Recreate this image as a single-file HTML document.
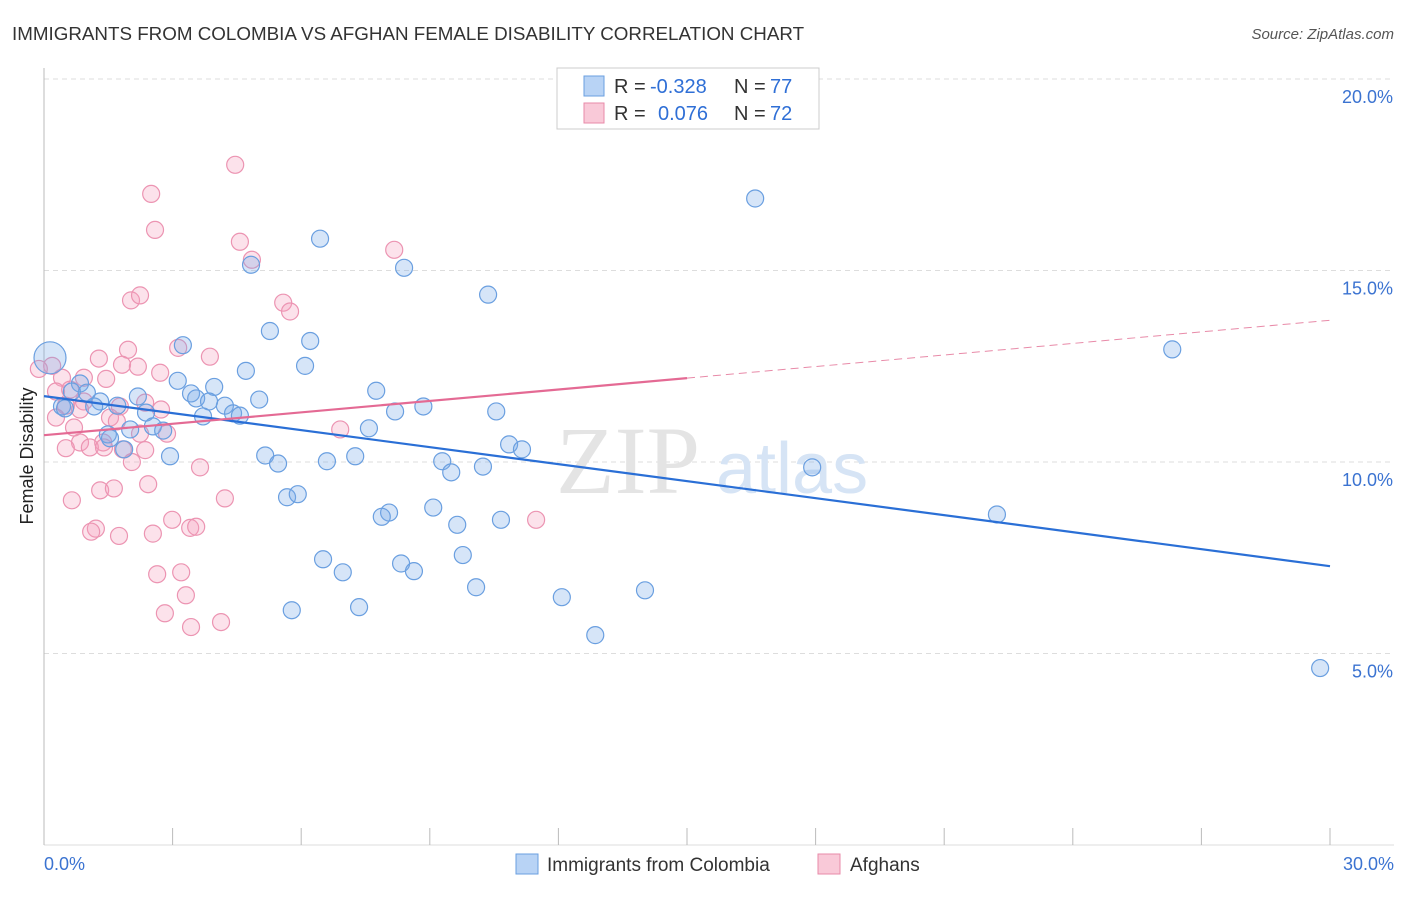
<!DOCTYPE html>
<html><head><meta charset="utf-8"><style>
body{margin:0;background:#fff;font-family:"Liberation Sans",sans-serif}
</style></head><body>
<svg width="1406" height="892" xmlns="http://www.w3.org/2000/svg" font-family="Liberation Sans, sans-serif">
<text x="12" y="40" font-size="18.8" fill="#333">IMMIGRANTS FROM COLOMBIA VS AFGHAN FEMALE DISABILITY CORRELATION CHART</text>
<text x="1394" y="39" font-size="15" fill="#555" font-style="italic" text-anchor="end">Source: ZipAtlas.com</text>
<g id="grid"></g>
<text x="556" y="493" font-size="96" fill="#e4e4e4" font-family="Liberation Serif, serif">ZIP</text>
<text x="716" y="493" font-size="72" fill="#d6e4f5">atlas</text>
<g id="pts"></g>
<g id="lines"></g>
<text transform="translate(33,456) rotate(-90)" font-size="18" fill="#222" text-anchor="middle">Female Disability</text>
<rect x="557" y="68" width="262" height="61" fill="#fff" stroke="#ccc"/>
<rect x="584" y="76" width="20" height="20" fill="#b8d3f5" stroke="#6a9fe0"/>
<rect x="584" y="103" width="20" height="20" fill="#f9c9d8" stroke="#e88aa8"/>
<g font-size="20">
<text x="614" y="93" fill="#333">R =</text><text x="650" y="93" fill="#2f6fd6">-0.328</text>
<text x="734" y="93" fill="#333">N =</text><text x="770" y="93" fill="#2f6fd6">77</text>
<text x="614" y="120" fill="#333">R =</text><text x="658" y="120" fill="#2f6fd6">0.076</text>
<text x="734" y="120" fill="#333">N =</text><text x="770" y="120" fill="#2f6fd6">72</text>
</g>
<text x="44" y="870" font-size="18" fill="#3b73d1">0.0%</text>
<text x="1394" y="870" font-size="18" fill="#3b73d1" text-anchor="end">30.0%</text>
<rect x="516" y="854" width="22" height="20" fill="#b8d3f5" stroke="#6a9fe0"/>
<text x="547" y="871" font-size="19" fill="#333">Immigrants from Colombia</text>
<rect x="818" y="854" width="22" height="20" fill="#f9c9d8" stroke="#e88aa8"/>
<text x="850" y="871" font-size="19" fill="#333">Afghans</text>
</svg>
<script>
const yTicks=[5,10,15,20];
const yTickLabels=["5.0%","10.0%","15.0%","20.0%"];
const xTicks=[0,3,6,9,12,15,18,21,24,27,30];
const colombiaX=[4.83,6.44,8.4,10.36,16.59,26.32,3.24,5.27,6.21,6.09,4.71,3.12,3.97,7.75,3.43,3.55,2.19,0.84,1.0,0.65,1.31,1.71,5.02,4.22,3.85,0.42,0.49,1.17,2.38,3.71,4.41,4.57,8.19,8.85,10.55,10.85,11.15,7.58,2.01,2.54,2.78,1.49,1.54,1.87,2.94,5.16,5.46,6.6,7.26,9.29,9.5,10.24,17.92,8.05,5.67,5.92,9.08,7.88,10.66,9.64,22.23,6.51,6.97,8.33,8.63,9.77,10.08,12.08,14.02,12.86,5.78,7.35,29.77,0.14];
const colombiaY=[15.15,15.83,15.07,14.37,16.88,12.94,13.05,13.42,13.16,12.51,12.38,12.12,11.96,11.86,11.79,11.66,11.71,12.05,11.81,11.84,11.58,11.47,11.63,11.47,11.58,11.45,11.4,11.45,11.29,11.19,11.27,11.21,11.32,11.45,11.32,10.46,10.33,10.88,10.85,10.93,10.82,10.72,10.62,10.33,10.15,10.17,9.96,10.02,10.15,10.02,9.73,9.88,9.86,8.68,9.08,9.16,8.81,8.57,8.49,8.36,8.63,7.46,7.12,7.35,7.15,7.57,6.73,6.47,6.65,5.48,6.13,6.21,4.62,12.72];
const afghanX=[4.46,2.5,2.59,4.57,4.85,8.17,5.58,5.74,2.03,2.24,3.13,3.87,1.28,1.96,1.82,2.19,2.71,1.45,0.93,0.42,0.19,0.28,0.61,0.93,0.84,0.51,1.77,2.36,2.73,1.54,1.7,0.28,0.7,2.24,2.87,1.38,0.84,0.51,1.07,1.4,2.36,1.84,6.91,2.05,3.64,0.65,1.31,1.63,4.22,2.43,1.21,1.1,1.75,2.54,2.99,3.41,3.55,11.48,2.64,3.2,3.31,2.82,3.43,4.13,-0.12];
const afghanY=[17.76,17.0,16.06,15.75,15.28,15.54,14.16,13.93,14.22,14.35,12.98,12.75,12.7,12.93,12.54,12.49,12.33,12.17,12.2,12.2,12.51,11.84,11.89,11.58,11.37,11.47,11.45,11.55,11.37,11.16,11.06,11.16,10.9,10.74,10.74,10.51,10.51,10.36,10.38,10.38,10.31,10.33,10.85,10.0,9.86,9.0,9.26,9.31,9.05,9.42,8.26,8.18,8.07,8.13,8.49,8.28,8.31,8.49,7.07,7.12,6.52,6.05,5.69,5.82,12.43];
const colombiaTrend=[[0,11.72],[30,7.28]];
const afghanTrend=[[0,10.7],[15,12.19],[30,13.7]];
const X=v=>44+v/30*1286, Y=v=>845-v/20*766;
const NS="http://www.w3.org/2000/svg";
function mk(t,a,p){const e=document.createElementNS(NS,t);for(const k in a)e.setAttribute(k,a[k]);p.appendChild(e);return e;}
const g=document.getElementById('grid');
yTicks.forEach((t,i)=>{
 const l=mk('line',{x1:44,x2:1394,y1:Y(t),y2:Y(t),stroke:'#ddd','stroke-dasharray':'5,4'},g);
 
 
 const tx=mk('text',{x:1393,y:Y(t)+24,'font-size':18,fill:'#3b73d1','text-anchor':'end'},g);
 tx.textContent=yTickLabels[i];
 
 
});
const ya=mk('line',{x1:44,x2:44,y1:68,y2:845,stroke:'#bbb'},g);


const xa=mk('line',{x1:44,x2:1394,y1:845,y2:845,stroke:'#ddd'},g);


xTicks.forEach(t=>{
 const l=mk('line',{x1:X(t),x2:X(t),y1:828,y2:845,stroke:'#bbb'},g);
 
 
});
const p=document.getElementById('pts');
afghanX.forEach((x,i)=>{
 const c=mk('circle',{cx:X(x),cy:Y(afghanY[i]),r:8.5,fill:'rgba(244,160,188,0.3)',stroke:'#ec94b2','stroke-width':1.2},p);
 
 
});
colombiaX.forEach((x,i)=>{
 const c=mk('circle',{cx:X(x),cy:Y(colombiaY[i]),r:i==colombiaX.length-1?16:8.5,fill:'rgba(120,170,232,0.3)',stroke:'#6a9fe0','stroke-width':1.2},p);
 
 
});
const L=document.getElementById('lines');
const bl=mk('line',{x1:X(colombiaTrend[0][0]),y1:Y(colombiaTrend[0][1]),x2:X(colombiaTrend[1][0]),y2:Y(colombiaTrend[1][1]),stroke:'#2a6fd6','stroke-width':2.2},L);


const pl=mk('line',{x1:X(afghanTrend[0][0]),y1:Y(afghanTrend[0][1]),x2:X(afghanTrend[1][0]),y2:Y(afghanTrend[1][1]),stroke:'#e46a94','stroke-width':2.2},L);


const pd=mk('line',{x1:X(afghanTrend[1][0]),y1:Y(afghanTrend[1][1]),x2:X(afghanTrend[2][0]),y2:Y(afghanTrend[2][1]),stroke:'#e88aa8','stroke-width':1,'stroke-dasharray':'8,5'},L);


</script>
</body></html>
